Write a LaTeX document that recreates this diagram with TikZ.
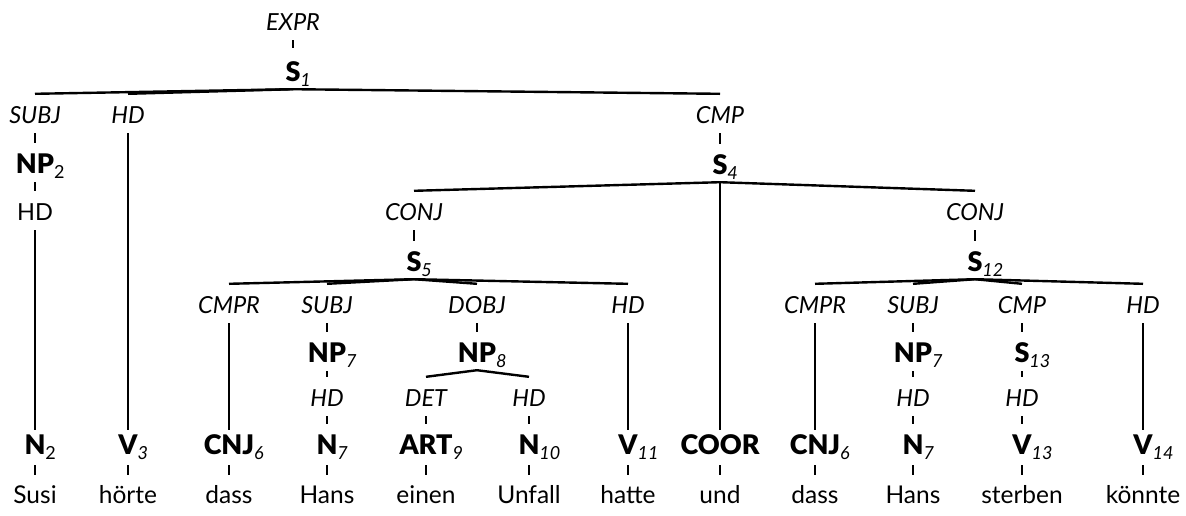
\documentclass[tikz,border=0pt]{standalone}
\usepackage{fontspec}
\setmainfont{Lato}[BoldFont={* Black}]
\newcommand\ctg[2]{{\fontsize{27}{27}\selectfont\bfseries #1}\rlap{\raisebox{-5pt}{\fontsize{18}{18}\selectfont\itshape #2}}}
\newcommand\ctgu[2]{{\fontsize{27}{27}\selectfont\bfseries #1}\rlap{\raisebox{-5pt}{\fontsize{18}{18}\selectfont #2}}}
\begin{document}
\begin{tikzpicture}[x=1pt,y=-1pt,
  fn/.style={font=\fontsize{23.5}{23.5}\selectfont\itshape, text height=19pt, text depth=0pt, inner ysep=10pt, inner xsep=0pt, anchor=base},
  fnu/.style={fn, font=\fontsize{23.5}{23.5}\selectfont},
  wd/.style={font=\fontsize{24.5}{24.5}\selectfont, text height=19pt, text depth=0pt, inner ysep=9pt, inner xsep=0pt, anchor=base},
  ct/.style={text height=16pt, text depth=0pt, inner ysep=8pt, inner xsep=0pt, anchor=base},
  edge/.style={line width=2.4pt},
  tick/.style={line width=2.4pt, shorten >=6pt},
  ctick/.style={line width=2.4pt, shorten <=1pt},
  btick/.style={line width=2.4pt, shorten <=3pt}]
\useasboundingbox (0,0) rectangle (1186,515);
% top
\node[fn] (expr) at (293,30) {EXPR};
\node[ct] (s1) at (293,81) {\ctg{S}{1}};
\node[fn] (subj1) at (35,123) {SUBJ};
\node[fn] (hd1) at (128,123) {HD};
\node[fn] (cmp1) at (720,123) {CMP};
\node[ct] (np2) at (35,173) {\ctgu{NP}{2}};
\node[fnu] (hd2) at (35,220) {HD};
\node[ct] (s4) at (720,174) {\ctg{S}{4}};
\node[fn] (conj1) at (414,220) {CONJ};
\node[fn] (conj2) at (975,220) {CONJ};
\node[ct] (s5) at (414,271) {\ctg{S}{5}};
\node[ct] (s12) at (975,271) {\ctg{S}{12}};
% row B labels
\node[fn] (cmpr1) at (229,313) {CMPR};
\node[fn] (subj2) at (327,313) {SUBJ};
\node[fn] (dobj) at (477,313) {DOBJ};
\node[fn] (hd3) at (628,313) {HD};
\node[fn] (cmpr2) at (815,313) {CMPR};
\node[fn] (subj3) at (913,313) {SUBJ};
\node[fn] (cmp2) at (1022,313) {CMP};
\node[fn] (hd4) at (1143,313) {HD};
% middle
\node[ct] (np7a) at (327,362) {\ctg{NP}{7}};
\node[ct] (np8) at (477,362) {\ctg{NP}{8}};
\node[ct] (np7b) at (913,362) {\ctg{NP}{7}};
\node[ct] (s13) at (1022,362) {\ctg{S}{13}};
\node[fn] (hd5) at (327,406) {HD};
\node[fn] (det) at (426,406) {DET};
\node[fn] (hd6) at (529,406) {HD};
\node[fn] (hd7) at (913,406) {HD};
\node[fn] (hd8) at (1022,406) {HD};
% categories
\node[ct] (n2) at (35,454) {\ctgu{N}{2}};
\node[ct] (v3) at (128,454) {\ctg{V}{3}};
\node[ct] (cnj6a) at (229,454) {\ctg{CNJ}{6}};
\node[ct] (n7a) at (327,454) {\ctg{N}{7}};
\node[ct] (art9) at (426,454) {\ctg{ART}{9}};
\node[ct] (n10) at (529,454) {\ctg{N}{10}};
\node[ct] (v11) at (628,454) {\ctg{V}{11}};
\node[ct] (coor) at (720,454) {\ctg{COOR}{}};
\node[ct] (cnj6b) at (815,454) {\ctg{CNJ}{6}};
\node[ct] (n7b) at (913,454) {\ctg{N}{7}};
\node[ct] (v13) at (1022,454) {\ctg{V}{13}};
\node[ct] (v14) at (1143,454) {\ctg{V}{14}};
% words
\node[wd] (w1) at (35,503) {Susi};
\node[wd] (w2) at (128,503) {hörte};
\node[wd] (w3) at (229,503) {dass};
\node[wd] (w4) at (327,503) {Hans};
\node[wd] (w5) at (426,503) {einen};
\node[wd] (w6) at (529,503) {Unfall};
\node[wd] (w7) at (628,503) {hatte};
\node[wd] (w8) at (720,503) {und};
\node[wd] (w9) at (815,503) {dass};
\node[wd] (w10) at (913,503) {Hans};
\node[wd] (w11) at (1022,503) {sterben};
\node[wd] (w12) at (1143,503) {könnte};
% ticks label -> category
\draw[tick, shorten >=9pt] (expr.south) -- (s1.north);
\draw[tick] (subj1.south) -- (np2.north);
\draw[tick] (cmp1.south) -- (s4.north);
\draw[tick] (conj1.south) -- (s5.north);
\draw[tick] (conj2.south) -- (s12.north);
\draw[tick] (subj2.south) -- (np7a.north);
\draw[tick] (dobj.south) -- (np8.north);
\draw[tick] (subj3.south) -- (np7b.north);
\draw[tick] (cmp2.south) -- (s13.north);
\draw[tick] (hd5.south) -- (n7a.north);
\draw[tick] (det.south) -- (art9.north);
\draw[tick] (hd6.south) -- (n10.north);
\draw[tick] (hd7.south) -- (n7b.north);
\draw[tick] (hd8.south) -- (v13.north);
% ticks category -> label
\draw[ctick] (np2.south) -- (hd2.north);
\draw[ctick] (np7a.south) -- (hd5.north);
\draw[ctick] (np7b.south) -- (hd7.north);
\draw[ctick] (s13.south) -- (hd8.north);
% fan edges
\foreach \c in {subj1,hd1,cmp1} \draw[edge] (s1.south) -- (\c.north);
\foreach \c in {conj1,conj2} \draw[edge] (s4.south) -- (\c.north);
\draw[edge] (s4.south) -- (coor.north);
\foreach \c in {cmpr1,subj2,dobj,hd3} \draw[edge] (s5.south) -- (\c.north);
\foreach \c in {cmpr2,subj3,cmp2,hd4} \draw[edge] (s12.south) -- (\c.north);
\foreach \c in {det,hd6} \draw[edge] (np8.south) -- (\c.north);
% long lines
\draw[edge] (hd1.south) -- (v3.north);
\draw[edge] (hd2.south) -- (n2.north);
\draw[edge] (cmpr1.south) -- (cnj6a.north);
\draw[edge] (hd3.south) -- (v11.north);
\draw[edge] (cmpr2.south) -- (cnj6b.north);
\draw[edge] (hd4.south) -- (v14.north);
% bottom ticks
\foreach \a/\b in {n2/w1,v3/w2,cnj6a/w3,n7a/w4,art9/w5,n10/w6,v11/w7,coor/w8,cnj6b/w9,n7b/w10,v13/w11,v14/w12}
  \draw[btick] (\a.south) -- (\b.north);
\end{tikzpicture}
\end{document}
